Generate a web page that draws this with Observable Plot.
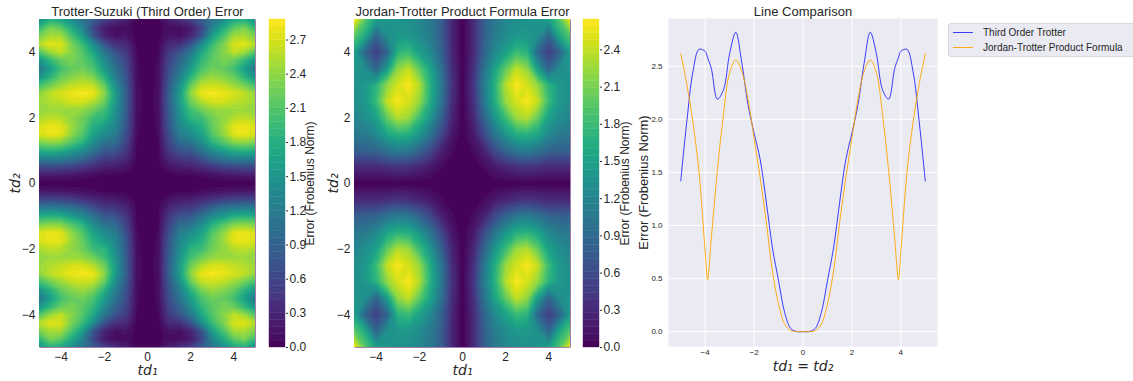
<!DOCTYPE html>
<html><head><meta charset="utf-8">
<script src="https://cdn.jsdelivr.net/npm/d3@7"></script>
<script src="https://cdn.jsdelivr.net/npm/@observablehq/plot@0.6"></script>
<style>
html,body{margin:0;padding:0;background:#fff;}
#chart{position:relative;width:1133px;height:381px;overflow:hidden;font-family:'Liberation Sans',Arial,sans-serif;}
#chart svg{position:absolute;top:0;overflow:visible;}
.legend{position:absolute;left:948px;top:23px;width:200px;height:34px;background:#EAEAF2;border:1px solid #d8d8e0;border-radius:3px;box-sizing:border-box;font-size:10px;color:#262626;}
.legend .row{position:absolute;left:0;height:12px;display:flex;align-items:center;white-space:nowrap;}
.legend .sw{display:inline-block;width:20px;height:0;border-top:1px solid;margin-left:4px;margin-right:10px;}
</style></head><body><div id="chart"></div>
<script>
// ---------- titles / labels ----------
const title1 = "Trotter-Suzuki (Third Order) Error";
const title2 = "Jordan-Trotter Product Formula Error";
const title3 = "Line Comparison";
const cbLabel = "Error (Frobenius Norm)";
const seriesNames = ["Third Order Trotter", "Jordan-Trotter Product Formula"];
const seriesColors = ["blue", "orange"];

// ---------- tick labels ----------
const heatTicks = [-4, -2, 0, 2, 4];
const cb1Ticks = [0.0, 0.3, 0.6, 0.9, 1.2, 1.5, 1.8, 2.1, 2.4, 2.7];
const cb2Ticks = [0.0, 0.3, 0.6, 0.9, 1.2, 1.5, 1.8, 2.1, 2.4];
const lineXTicks = [-4, -2, 0, 2, 4];
const lineYTicks = [0.0, 0.5, 1.0, 1.5, 2.0, 2.5];

// ---------- heatmap 1 (Trotter-Suzuki): values read for |td2| = 0..5 (step 0.25, rows) x |td1| = 0..5 (step 0.5, cols) ----------
const h1Quadrant = [
  [0,0,0,0,0,0,0,0,0,0,0],
  [0,0.005,0.03,0.04,0.05,0.08,0.12,0.15,0.18,0.2,0.2],
  [0,0.03,0.15,0.22,0.25,0.35,0.45,0.55,0.6,0.65,0.6],
  [0,0.04,0.32,0.45,0.5,0.7,0.95,1.1,1.2,1.25,1.2],
  [0,0.04,0.48,0.75,0.8,1.1,1.4,1.6,1.8,1.85,1.8],
  [0,0.05,0.6,1.0,1.1,1.4,1.85,2.1,2.35,2.4,2.3],
  [0,0.07,0.7,1.22,1.4,1.65,2.1,2.4,2.75,2.8,2.7],
  [0,0.08,0.78,1.35,1.6,1.8,2.2,2.45,2.75,2.8,2.7],
  [0,0.09,0.82,1.42,1.87,1.95,2.25,2.4,2.55,2.6,2.5],
  [0,0.1,0.85,1.5,2.0,2.25,2.4,2.45,2.45,2.45,2.4],
  [0,0.1,0.88,1.6,2.25,2.55,2.7,2.7,2.6,2.55,2.45],
  [0,0.1,0.88,1.6,2.4,2.8,2.85,2.8,2.7,2.6,2.4],
  [0,0.09,0.82,1.45,2.2,2.6,2.65,2.6,2.45,2.25,2.0],
  [0,0.08,0.75,1.25,1.85,2.3,2.45,2.35,2.2,1.85,1.5],
  [0,0.08,0.68,1.1,1.6,2.05,2.25,2.2,2.0,1.6,1.15],
  [0,0.07,0.6,0.95,1.4,1.9,2.15,2.3,2.2,1.9,1.5],
  [0,0.06,0.5,0.75,1.15,1.7,2.1,2.35,2.6,2.45,2.1],
  [0,0.04,0.35,0.4,0.75,1.4,1.95,2.3,2.7,2.75,2.55],
  [0,0.02,0.15,0.12,0.3,0.75,1.6,2.05,2.5,2.5,2.3],
  [0,0.02,0.1,0.1,0.2,0.6,1.3,1.75,2.15,2.3,1.9],
  [0,0.05,0.25,0.4,0.55,0.85,1.1,1.4,1.7,1.8,1.45]
];
const h1Max = 2.88;

// ---------- heatmap 2 (Jordan-Trotter): |td2| = 0..5 (step 0.5, rows) x |td1| = 0..5 (step 0.5, cols) ----------
const h2Quadrant = [
  [0,0,0,0,0,0,0,0,0,0,0],
  [0,0.01,0.07,0.18,0.28,0.35,0.4,0.35,0.3,0.3,0.3],
  [0,0.07,0.25,0.6,0.85,1.05,1.1,1.0,0.85,0.8,0.8],
  [0,0.18,0.6,1.03,1.4,1.65,1.7,1.55,1.25,1.1,1.05],
  [0,0.28,0.85,1.4,1.82,2.25,2.35,2.0,1.5,1.3,1.2],
  [0,0.35,1.05,1.65,2.25,2.47,2.62,2.4,1.8,1.4,1.3],
  [0,0.4,1.1,1.7,2.35,2.62,2.47,2.2,1.7,1.4,1.35],
  [0,0.35,1.0,1.55,2.0,2.4,2.2,1.45,0.85,1.3,1.4],
  [0,0.3,0.85,1.25,1.5,1.8,1.7,0.85,0.49,0.85,1.5],
  [0,0.3,0.8,1.1,1.3,1.4,1.4,1.3,0.85,1.6,1.95],
  [0,0.3,0.8,1.05,1.2,1.3,1.35,1.4,1.5,1.95,2.62]
];
const h2Max = 2.645;

// ---------- line comparison (td1 = td2) ----------
const lineT = [-5,-4.75,-4.5,-4.25,-4,-3.9,-3.75,-3.5,-3.25,-3,-2.75,-2.5,-2.25,-2,-1.75,-1.5,-1.25,-1,-0.75,-0.5,-0.25,0,
               0.25,0.5,0.75,1,1.25,1.5,1.75,2,2.25,2.5,2.75,3,3.25,3.5,3.75,3.9,4,4.25,4.5,4.75,5];
const thirdOrder = [1.42,1.98,2.45,2.66,2.64,2.58,2.48,2.19,2.28,2.62,2.82,2.53,2.14,1.87,1.62,1.22,0.79,0.48,0.18,0.03,0.0,0,
                    0.0,0.03,0.18,0.48,0.79,1.22,1.62,1.87,2.14,2.53,2.82,2.62,2.28,2.19,2.48,2.58,2.64,2.66,2.45,1.98,1.42];
const jordan = [2.62,2.33,1.97,1.5,0.75,0.49,0.88,1.52,2.05,2.44,2.56,2.45,2.19,1.82,1.45,1.03,0.57,0.26,0.07,0.01,0,0,
                0,0.01,0.07,0.26,0.57,1.03,1.45,1.82,2.19,2.45,2.56,2.44,2.05,1.52,0.88,0.49,0.75,1.5,1.97,2.33,2.62];

// ---------- helpers ----------
const FONT = "'Liberation Sans', Arial, sans-serif";
const MATH = "'DejaVu Sans', sans-serif";
const INK = "#262626";
const chart = document.getElementById("chart");
function place(svg, left) { svg.style.left = left + "px"; chart.append(svg); }
function fullGrid(Q, nx, ny) {
  const cx = (nx - 1) / 2, cy = (ny - 1) / 2, out = [];
  for (let j = 0; j < ny; j++) for (let i = 0; i < nx; i++) out.push(Q[Math.abs(j - cy)][Math.abs(i - cx)]);
  return out;
}
const grid1 = fullGrid(h1Quadrant, 21, 41);
const grid2 = fullGrid(h2Quadrant, 21, 21);
const step1 = h1Max / 48, step2 = h2Max / 48;
const levels1 = d3.range(48).map(k => k * step1);
const levels2 = d3.range(48).map(k => k * step2);
const color1 = {type: "linear", scheme: "viridis", domain: [-step1 / 2, h1Max - step1 / 2]};
const color2 = {type: "linear", scheme: "viridis", domain: [-step2 / 2, h2Max - step2 / 2]};
const T = {lineAnchor: "middle", textAnchor: "middle", fill: INK};

function heatmap({grid, w, h, x1, x2, y1, y2, levels, color, title, width, marginLeft, marginRight, ylabDx}) {
  return Plot.plot({
    width, height: 381, marginLeft, marginRight, marginTop: 19, marginBottom: 34,
    x: {domain: [-5, 5], ticks: heatTicks, tickSize: 0, tickPadding: 5, label: null},
    y: {domain: [-5, 5], ticks: heatTicks, tickSize: 0, tickPadding: 4, label: null},
    color,
    style: {fontSize: "12px", fontFamily: FONT, color: INK, background: "transparent"},
    marks: [
      Plot.frame({fill: d3.interpolateViridis(0)}),
      Plot.contour(grid, {width: w, height: h, x1, x2, y1, y2, fill: Plot.identity, thresholds: levels, clip: true}),
      Plot.text([title], {...T, text: d => d, frameAnchor: "top", dy: -8, fontSize: 13}),
      Plot.text(["td\u2081"], {...T, text: d => d, frameAnchor: "bottom", dy: 23, fontSize: 14, fontStyle: "italic", fontFamily: MATH}),
      Plot.text(["td\u2082"], {...T, text: d => d, frameAnchor: "left", dx: ylabDx, rotate: -90, fontSize: 14, fontStyle: "italic", fontFamily: MATH})
    ]
  });
}
function colorbar({max, step, levels, color, ticks, width, marginLeft, marginRight, labDx}) {
  return Plot.plot({
    width, height: 381, marginLeft, marginRight, marginTop: 19, marginBottom: 34,
    x: {domain: [0, 1], axis: null},
    y: {domain: [0, max], axis: "right", ticks, tickFormat: ".1f", tickSize: 2, tickPadding: 2, label: null},
    color,
    style: {fontSize: "12px", fontFamily: FONT, color: INK, background: "transparent"},
    marks: [
      Plot.rect(levels, {x1: () => 0, x2: () => 1, y1: d => d, y2: d => Math.min(d + step, max), fill: d => d, stroke: d => d, strokeWidth: 0.4}),
      Plot.text([cbLabel], {...T, text: d => d, frameAnchor: "right", dx: labDx, rotate: -90, fontSize: 12})
    ]
  });
}

place(heatmap({grid: grid1, w: 21, h: 41, x1: -5.25, x2: 5.25, y1: -5.125, y2: 5.125, levels: levels1, color: color1,
  title: title1, width: 262, marginLeft: 39, marginRight: 7, ylabDx: -24}), 0);
place(colorbar({max: h1Max, step: step1, levels: levels1, color: color1, ticks: cb1Ticks, width: 70, marginLeft: 9, marginRight: 45, labDx: 25}), 260);
place(heatmap({grid: grid2, w: 21, h: 21, x1: -5.25, x2: 5.25, y1: -5.25, y2: 5.25, levels: levels2, color: color2,
  title: title2, width: 255, marginLeft: 34, marginRight: 5, ylabDx: -21}), 320);
place(colorbar({max: h2Max, step: step2, levels: levels2, color: color2, ticks: cb2Ticks, width: 70, marginLeft: 8, marginRight: 46, labDx: 26}), 575);

const lineChart = Plot.plot({
  width: 320, height: 381, marginLeft: 38, marginRight: 13, marginTop: 18, marginBottom: 35,
  x: {domain: [-5.5, 5.5], ticks: lineXTicks, tickSize: 0, tickPadding: 3, label: null},
  y: {domain: [-0.14, 2.95], ticks: lineYTicks, tickFormat: ".1f", tickSize: 0, tickPadding: 6, label: null},
  style: {fontSize: "8px", fontFamily: FONT, color: INK, background: "transparent"},
  marks: [
    Plot.frame({fill: "#EAEAF2"}),
    Plot.ruleX(lineXTicks, {stroke: "white", strokeWidth: 1}),
    Plot.ruleY(lineYTicks, {stroke: "white", strokeWidth: 1}),
    Plot.line(lineT, {x: d => d, y: (d, i) => thirdOrder[i], stroke: seriesColors[0], strokeOpacity: 0.75, strokeWidth: 1, curve: "catmull-rom"}),
    Plot.line(lineT, {x: d => d, y: (d, i) => jordan[i], stroke: seriesColors[1], strokeOpacity: 0.9, strokeWidth: 1, curve: "catmull-rom"}),
    Plot.text([title3], {...T, text: d => d, frameAnchor: "top", dy: -7, fontSize: 13}),
    Plot.text([cbLabel], {...T, text: d => d, frameAnchor: "left", dx: -25, rotate: -90, fontSize: 13}),
    Plot.text(["td\u2081 = td\u2082"], {...T, text: d => d, frameAnchor: "bottom", dy: 20, fontSize: 14, fontStyle: "italic", fontFamily: MATH})
  ]
});
place(lineChart, 630);

// legend
const legend = document.createElement("div");
legend.className = "legend";
seriesNames.forEach((name, i) => {
  const row = document.createElement("div");
  row.className = "row";
  row.style.top = (i === 0 ? 2 : 17) + "px";
  const sw = document.createElement("span");
  sw.className = "sw";
  sw.style.borderTopColor = seriesColors[i];
  sw.style.opacity = i === 0 ? 0.75 : 0.9;
  const tx = document.createElement("span");
  tx.textContent = name;
  row.append(sw, tx);
  legend.append(row);
});
chart.append(legend);
</script></body></html>
